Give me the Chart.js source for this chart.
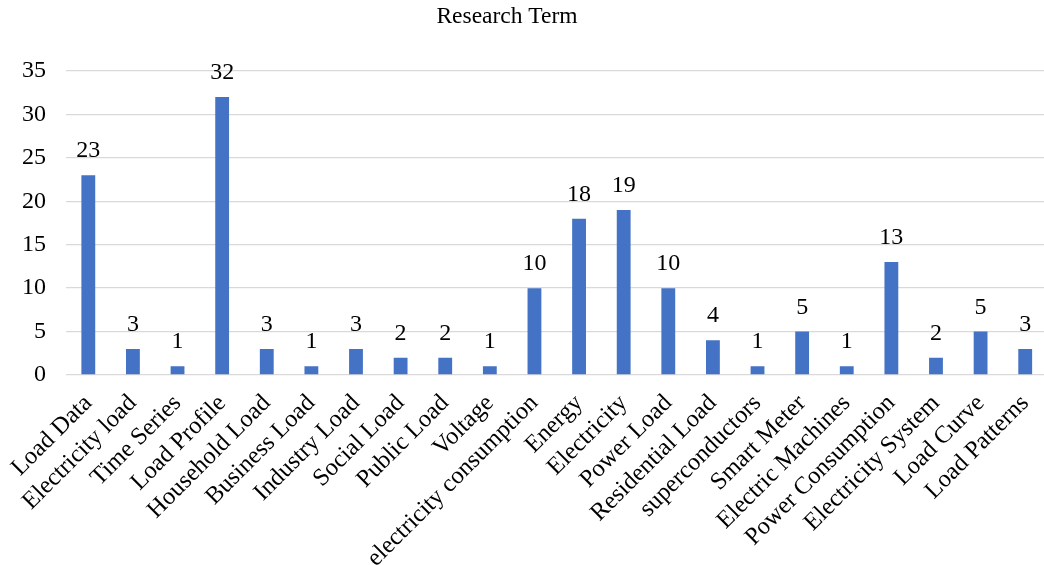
<!DOCTYPE html>
<html>
<head>
<meta charset="utf-8">
<script src="https://cdn.jsdelivr.net/npm/chart.js@4/dist/chart.umd.min.js"></script>
<style>
  html, body { margin: 0; padding: 0; background: #fff; overflow: hidden; }
  #wrap { position: relative; width: 1052px; height: 565px; }
</style>
</head>
<body>
<div id="wrap"><canvas id="myChart"></canvas></div>
<script>
const terms = ['Load Data', 'Electricity load', 'Time Series', 'Load Profile', 'Household Load',
  'Business Load', 'Industry Load', 'Social Load', 'Public Load', 'Voltage',
  'electricity consumption', 'Energy', 'Electricity', 'Power Load', 'Residential Load',
  'superconductors', 'Smart Meter', 'Electric Machines', 'Power Consumption',
  'Electricity System', 'Load Curve', 'Load Patterns'];
const counts = [23, 3, 1, 32, 3, 1, 3, 2, 2, 1, 10, 18, 19, 10, 4, 1, 5, 1, 13, 2, 5, 3];
const yTicks = [0, 5, 10, 15, 20, 25, 30, 35];
const chartTitle = 'Research Term';

const serif = '"Liberation Serif", "Times New Roman", serif';

// numbers over the bars + the title (placed by hand, excel centres it a bit left)
const labelsPlugin = {
  id: 'barLabels',
  afterDatasetsDraw(chart) {
    const ctx = chart.ctx;
    ctx.save();
    ctx.fillStyle = '#000';
    ctx.font = '24px ' + serif;
    ctx.textAlign = 'center';
    ctx.textBaseline = 'alphabetic';
    chart.getDatasetMeta(0).data.forEach((bar, i) => {
      ctx.fillText(counts[i], bar.x, bar.y - 18);
    });
    ctx.font = '23.5px ' + serif;
    ctx.textBaseline = 'middle';
    ctx.fillText(chartTitle, 507, 17);
    ctx.restore();
  }
};

const data = {
  labels: terms,
  datasets: [{
    label: chartTitle,
    data: counts,
    backgroundColor: '#4472C4',
    barPercentage: 0.31,
    categoryPercentage: 1
  }]
};

const config = {
  type: 'bar',
  data: data,
  options: {
    responsive: true,
    maintainAspectRatio: false,
    animation: false,
    layout: { padding: { top: 71, left: 0, right: 0, bottom: 0 } },
    plugins: {
      legend: { display: false },
      title: { display: false },
      tooltip: { enabled: false }
    },
    scales: {
      x: {
        grid: { display: false },
        border: { display: false },
        ticks: {
          color: '#000',
          font: { family: serif, size: 24.5 },
          minRotation: 45,
          maxRotation: 45,
          autoSkip: false,
          padding: 6
        },
        afterFit(scale) { scale.height = 190; }
      },
      y: {
        min: 0,
        max: 35,
        afterBuildTicks(scale) { scale.ticks = yTicks.map(v => ({ value: v })); },
        grid: { color: '#D9D9D9', lineWidth: 1.3, drawTicks: false },
        border: { display: false },
        ticks: {
          color: '#000',
          font: { family: serif, size: 24 },
          padding: 20
        },
        afterFit(scale) { scale.width = 66; }
      }
    }
  },
  plugins: [labelsPlugin]
};

const myChart = new Chart(document.getElementById('myChart'), config);
</script>
</body>
</html>
